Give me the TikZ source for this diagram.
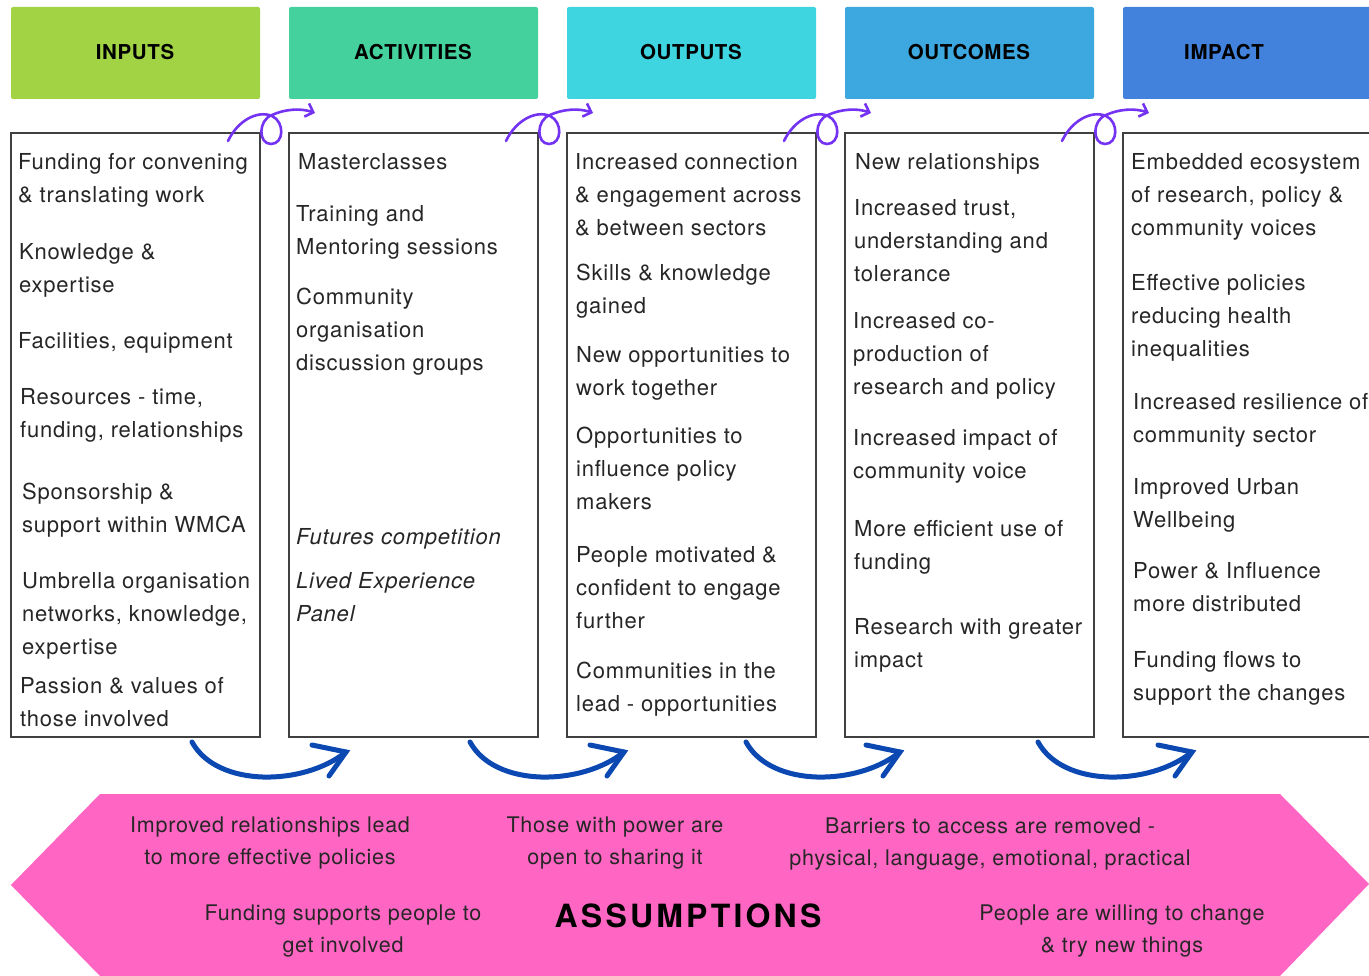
\documentclass[tikz,border=0pt]{standalone}
\usepackage{fontspec}
\setmainfont{TeX Gyre Heros}
\usetikzlibrary{arrows.meta}

\definecolor{inkcol}{HTML}{262626}
\definecolor{framecol}{HTML}{404040}
\definecolor{cInputs}{HTML}{A1D344}
\definecolor{cActivities}{HTML}{44D19E}
\definecolor{cOutputs}{HTML}{3ED5E0}
\definecolor{cOutcomes}{HTML}{3DA8DF}
\definecolor{cImpact}{HTML}{4282DC}
\definecolor{loopcol}{HTML}{7433F2}
\definecolor{swoopcol}{HTML}{0C48B2}
\definecolor{bannercol}{HTML}{FF66C4}

\newfontfamily\bodyfont{TeX Gyre Heros}[LetterSpace=3.5]
\newfontfamily\headfont{TeX Gyre Heros}[LetterSpace=3]
\newfontfamily\titlefont{TeX Gyre Heros}[LetterSpace=10]

% item nodes are anchored at the baseline of their last line
\tikzset{
  hdrbox/.style={fill=#1, draw=none, rounded corners=2pt},
  hdrtext/.style={font=\headfont\fontsize{20.5}{24}\selectfont\bfseries, text=black, inner sep=0pt, anchor=base},
  colbox/.style={draw=framecol, line width=1.3pt, fill=white},
  item/.style={font=\bodyfont\fontsize{22}{33}\selectfont, text=inkcol, inner sep=0pt, anchor=base west, align=left, yshift=-1.5pt},
  itemit/.style={item, font=\bodyfont\fontsize{22}{33}\selectfont\itshape},
  note/.style={font=\bodyfont\fontsize{21.5}{32}\selectfont, text=inkcol, inner sep=0pt, anchor=base, align=center},
  looparrow/.style={draw=loopcol, line width=2.6pt, line cap=round, -{Straight Barb[length=7pt, width=14pt, line width=2.6pt]}},
  swoop/.style={draw=swoopcol, line width=5pt, line cap=round},
}

\begin{document}
\begin{tikzpicture}[x=1pt, y=-1pt]
\clip (0,0) rectangle (1369,976);
\fill[white] (0,0) rectangle (1369,976);

% column headers
\fill[hdrbox=cInputs]     (11,7)   rectangle (260,99);
\fill[hdrbox=cActivities] (289,7)  rectangle (538,99);
\fill[hdrbox=cOutputs]    (567,7)  rectangle (816,99);
\fill[hdrbox=cOutcomes]   (845,7)  rectangle (1094,99);
\fill[hdrbox=cImpact]     (1123,7) rectangle (1380,99);
\node[hdrtext] (hInputs)     at (135,60)  {INPUTS};
\node[hdrtext] (hActivities) at (413,60)  {ACTIVITIES};
\node[hdrtext] (hOutputs)    at (691,60)  {OUTPUTS};
\node[hdrtext] (hOutcomes)   at (969,60)  {OUTCOMES};
\node[hdrtext] (hImpact)     at (1224,60) {IMPACT};

% column frames
\draw[colbox] (11,133)   rectangle (260,737);
\draw[colbox] (289,133)  rectangle (538,737);
\draw[colbox] (567,133)  rectangle (816,737);
\draw[colbox] (845,133)  rectangle (1094,737);
\draw[colbox] (1123,133) rectangle (1385,737);

% inputs
\node[item] (in1) at (18,201) {Funding for convening\\\& translating work};
\node[item] (in2) at (19,291) {Knowledge \&\\expertise};
\node[item] (in3) at (18,347) {Facilities, equipment};
\node[item] (in4) at (20,436) {Resources - time,\\funding, relationships};
\node[item] (in5) at (22,531) {Sponsorship \&\\support within WMCA};
\node[item] (in6) at (22,653) {Umbrella organisation\\networks, knowledge,\\expertise};
\node[item] (in7) at (20,725) {Passion \& values of\\those involved};

% activities
\node[item] (ac1) at (298,168) {Masterclasses};
\node[item] (ac2) at (296,253) {Training and\\Mentoring sessions};
\node[item] (ac3) at (296,369) {Community\\organisation\\discussion groups};
\node[itemit] (ac4) at (296,543) {Futures competition};
\node[itemit] (ac5) at (296,620) {Lived Experience\\Panel};

% outputs
\node[item] (ou1) at (575,234) {Increased connection\\\& engagement across\\\& between sectors};
\node[item] (ou2) at (576,312) {Skills \& knowledge\\gained};
\node[item] (ou3) at (576,394) {New opportunities to\\work together};
\node[item] (ou4) at (576,508) {Opportunities to\\influence policy\\makers};
\node[item] (ou5) at (576,627) {People motivated \&\\confident to engage\\further};
\node[item] (ou6) at (576,710) {Communities in the\\lead - opportunities};

% outcomes
\node[item] (oc1) at (855,168) {New relationships};
\node[item] (oc2) at (854,280) {Increased trust,\\understanding and\\tolerance};
\node[item] (oc3) at (853,393) {Increased co-\\production of\\research and policy};
\node[item] (oc4) at (853,477) {Increased impact of\\community voice};
\node[item] (oc5) at (854,568) {More efficient use of\\funding};
\node[item] (oc6) at (854,666) {Research with greater\\impact};

% impact
\node[item] (im1) at (1131,234) {Embedded ecosystem\\of research, policy \&\\community voices};
\node[item] (im2) at (1131,355) {Effective policies\\reducing health\\inequalities};
\node[item] (im3) at (1133,441) {Increased resilience of\\community sector};
\node[item] (im4) at (1133,526) {Improved Urban\\Wellbeing};
\node[item] (im5) at (1133,610) {Power \& Influence\\more distributed};
\node[item] (im6) at (1133,699) {Funding flows to\\support the changes};

% looped arrows between the column tops
\foreach \gx in {260,538,816,1094} {
  \begin{scope}[xshift=\gx pt]
    \draw[looparrow] (-32,141) .. controls (-22,120) and (-2,110) .. (12,116)
      .. controls (25,122) and (24,144) .. (11,144)
      .. controls (-2,144) and (-2,120) .. (12,115)
      .. controls (25,109) and (41,108) .. (55,113);
  \end{scope}
}

% swooping arrows under the columns
\foreach \sx in {192,470,746,1038} {
  \begin{scope}[xshift=\sx pt]
    \draw[swoop] (0,742) .. controls (25,788) and (112,786) .. (154,752);
    \draw[swoop] (120,745) -- (154,752) -- (137,776);
  \end{scope}
}

% assumptions banner
\fill[bannercol] (11,885) -- (100,794) -- (1280,794) -- (1369,884) -- (1280,976) -- (100,976) -- cycle;
\node[note] (as1) at (270,864) {Improved relationships lead\\to more effective policies};
\node[note] (as2) at (615,864) {Those with power are\\open to sharing it};
\node[note] (as3) at (990,865) {Barriers to access are removed -\\physical, language, emotional, practical};
\node[note] (as4) at (343,952) {Funding supports people to\\get involved};
\node[note] (as5) at (1122,952) {People are willing to change\\\& try new things};
\node[font=\titlefont\fontsize{32}{36}\selectfont\bfseries, text=black, inner sep=0pt, anchor=base] (asTitle) at (688,927) {ASSUMPTIONS};
\end{tikzpicture}
\end{document}
